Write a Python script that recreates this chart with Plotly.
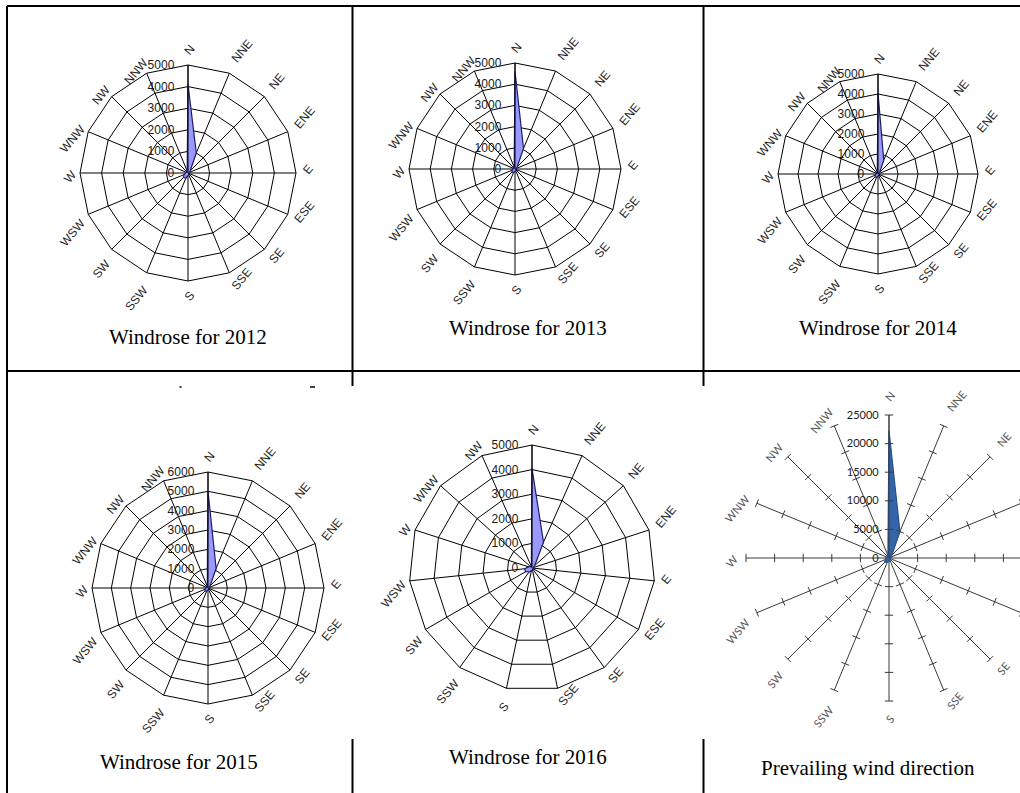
import plotly.graph_objects as go

# Canvas is a little wider than the visible page so the last rose runs off the right edge.
W, H = 1040, 793
VIEW_W = 1020

DIRS_16 = ["N", "NNE", "NE", "ENE", "E", "ESE", "SE", "SSE",
           "S", "SSW", "SW", "WSW", "W", "WNW", "NW", "NNW"]
DIRS_15 = DIRS_16[:-1]

# Hourly wind-direction counts per year
WIND_2012 = [4100, 1000, 150, 60, 40, 40, 50, 80, 120, 250, 300, 200, 120, 80, 60, 100]
WIND_2013 = [4600, 1050, 150, 60, 40, 40, 50, 80, 100, 180, 200, 150, 100, 70, 60, 100]
WIND_2014 = [4050, 750, 120, 50, 40, 40, 50, 70, 100, 180, 200, 150, 100, 70, 60, 90]
WIND_2015 = [5000, 1100, 150, 60, 40, 40, 50, 80, 100, 180, 220, 160, 100, 70, 60, 100]
WIND_2016 = [4050, 1150, 150, 60, 40, 40, 50, 80, 120, 200, 300, 300, 150, 80, 60]
PREVAILING = [22300, 5000, 700, 300, 200, 200, 250, 400, 600, 800, 1100, 700, 500, 350, 300, 500]

TICKS_5K = [0, 1000, 2000, 3000, 4000, 5000]
TICKS_6K = [0, 1000, 2000, 3000, 4000, 5000, 6000]
TICKS_25K = [0, 5000, 10000, 15000, 20000, 25000]

CAPTIONS = ["Windrose for 2012", "Windrose for 2013", "Windrose for 2014",
            "Windrose for 2015", "Windrose for 2016", "Prevailing wind direction"]


def fx(px):
    return px / W


def fy(py):
    return 1 - py / H


def domain(cx, cy, r):
    return dict(x=[fx(cx - r), fx(cx + r)], y=[fy(cy + r), fy(cy - r)])


ARIAL = "Liberation Sans, Arial, sans-serif"
CALIBRI = "Lato, Carlito, Calibri, sans-serif"
TIMES = "Liberation Serif, Times New Roman, serif"


def classic_polar(cx, cy, r, ticks, dirs):
    return dict(
        domain=domain(cx, cy, r),
        gridshape="linear",
        bgcolor="rgba(0,0,0,0)",
        radialaxis=dict(
            range=[0, ticks[-1]], tickvals=ticks, angle=90, side="counterclockwise",
            tickangle=90, showline=True, linecolor="black", linewidth=1,
            showgrid=True, gridcolor="black", gridwidth=1,
            ticks="outside", ticklen=9, tickcolor="rgba(0,0,0,0)",
            tickformat="d",
            tickfont=dict(family=ARIAL, size=12, color="#1a1a1a"),
        ),
        angularaxis=dict(
            type="category", categoryorder="array", categoryarray=dirs,
            direction="clockwise", rotation=90,
            showline=True, linecolor="black", linewidth=1,
            showgrid=True, gridcolor="black", gridwidth=1,
            ticks="outside", ticklen=5, tickcolor="rgba(0,0,0,0)", tickangle=-50,
            tickfont=dict(family=ARIAL, size=12, color="#262626"),
        ),
    )


fig = go.Figure()

years = [
    ("polar", WIND_2012, DIRS_16, (188, 173, 108), TICKS_5K),
    ("polar2", WIND_2013, DIRS_16, (515, 169, 106), TICKS_5K),
    ("polar3", WIND_2014, DIRS_16, (878, 174, 100), TICKS_5K),
    ("polar4", WIND_2015, DIRS_16, (208, 588, 116), TICKS_6K),
    ("polar5", WIND_2016, DIRS_15, (532, 568, 123), TICKS_5K),
]

layout_polars = {}
for name, vals, dirs, (cx, cy, r), ticks in years:
    fig.add_trace(go.Scatterpolar(
        r=vals + vals[:1], theta=dirs + dirs[:1], subplot=name,
        mode="lines", fill="toself", fillcolor="#9999FF",
        line=dict(color="#1c1c6e", width=1.2), hoverinfo="skip",
    ))
    layout_polars[name] = classic_polar(cx, cy, r, ticks, dirs)

# Cumulative rose, drawn in the newer spreadsheet style (spokes with tick marks)
fig.add_trace(go.Scatterpolar(
    r=PREVAILING + PREVAILING[:1], theta=DIRS_16 + DIRS_16[:1], subplot="polar6",
    mode="lines", fill="toself", fillcolor="#3465A8",
    line=dict(color="#284F8A", width=1.2), hoverinfo="skip",
))

tick_r, tick_t, tick_a = [], [], []
for i, d in enumerate(DIRS_16):
    for v in TICKS_25K[1:]:
        tick_r.append(v)
        tick_t.append(d)
        tick_a.append(i * 22.5)
fig.add_trace(go.Scatterpolar(
    r=tick_r, theta=tick_t, subplot="polar6", mode="markers",
    marker=dict(symbol="line-ew", size=6, angle=tick_a,
                line=dict(color="#3a3a3a", width=1)),
    hoverinfo="skip",
))

layout_polars["polar6"] = dict(
    domain=domain(889, 558, 143),
    bgcolor="rgba(0,0,0,0)",
    radialaxis=dict(
        range=[0, 25000], tickvals=TICKS_25K, angle=90, side="counterclockwise",
        tickangle=90, showline=True, linecolor="#3a3a3a", linewidth=1,
        showgrid=False, ticks="outside", ticklen=6, tickcolor="rgba(0,0,0,0)",
        tickformat="d",
        tickfont=dict(family=CALIBRI, size=11, color="#1a1a1a"),
    ),
    angularaxis=dict(
        type="category", categoryorder="array", categoryarray=DIRS_16,
        direction="clockwise", rotation=90,
        showline=False, showgrid=True, gridcolor="#3a3a3a", gridwidth=1,
        ticks="outside", ticklen=9, tickcolor="rgba(0,0,0,0)", tickangle=-50,
        tickfont=dict(family=CALIBRI, size=11, color="#595959"),
    ),
)

# Table rules around the six cells
rules = [
    (7, 6, 1040, 6),        # top
    (7, 6, 7, 793),         # left
    (7, 371, 1040, 371),    # between rows
    (352.5, 6, 352.5, 371),
    (703.5, 6, 703.5, 371),
    (352.5, 371, 352.5, 386),
    (703.5, 371, 703.5, 386),
    (352.5, 739, 352.5, 793),
    (703.5, 739, 703.5, 793),
]
shapes = [dict(type="line", xref="paper", yref="paper",
               x0=fx(a), y0=fy(b), x1=fx(c), y1=fy(d),
               line=dict(color="black", width=2)) for a, b, c, d in rules]
# cut-off fragments of text at the top of the lower row
for a, c in [(179.5, 181.5), (310, 315)]:
    shapes.append(dict(type="line", xref="paper", yref="paper",
                       x0=fx(a), y0=fy(387), x1=fx(c), y1=fy(387),
                       line=dict(color="black", width=1.5)))

caption_pos = [(188, 337), (528, 328), (878, 328), (179, 762), (528, 757), (868, 768)]
annotations = [dict(text=t, x=fx(x), y=fy(y), xref="paper", yref="paper",
                    showarrow=False, xanchor="center", yanchor="middle",
                    font=dict(family=TIMES, size=21, color="black"))
               for t, (x, y) in zip(CAPTIONS, caption_pos)]

fig.update_layout(
    width=W, height=H, margin=dict(l=0, r=0, t=0, b=0),
    paper_bgcolor="white", plot_bgcolor="white", showlegend=False,
    shapes=shapes, annotations=annotations, **layout_polars,
)

fig.write_html(
    "out.html",
    post_script=(
        "document.body.style.margin='0';"
        "var gd=document.getElementById('{plot_id}');"
        "gd.parentElement.style.width='%dpx';"
        "gd.parentElement.style.overflow='hidden';" % VIEW_W
    ),
)
